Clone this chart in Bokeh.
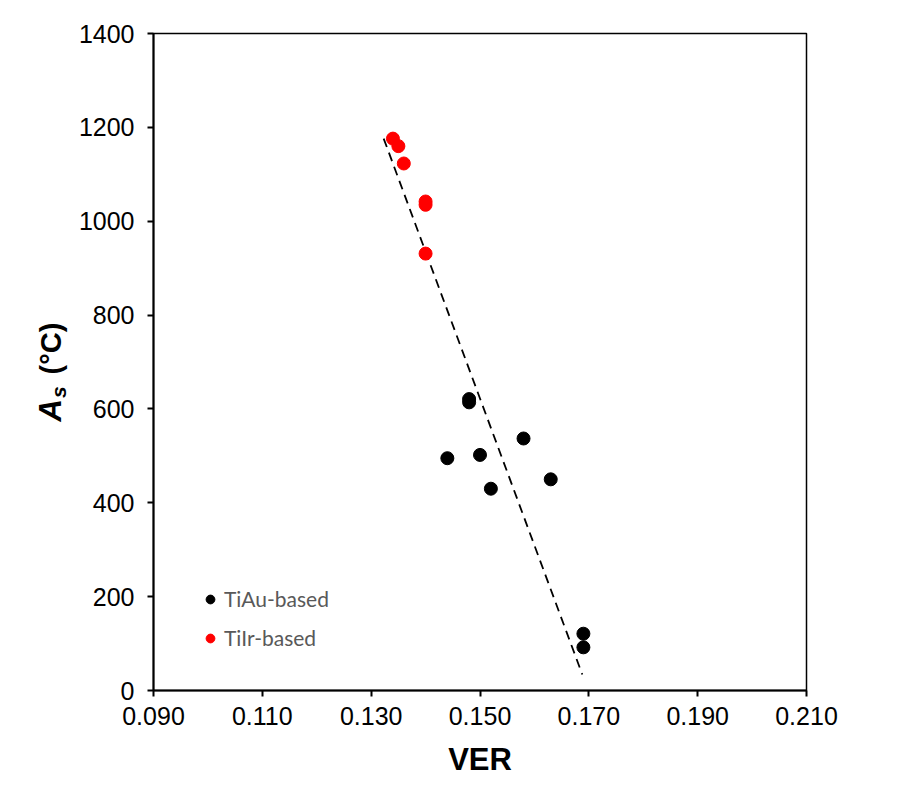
from bokeh.plotting import figure
from bokeh.layouts import row
from bokeh.models import Range1d, FixedTicker, NumeralTickFormatter, Legend, LegendItem, Div
from bokeh.embed import file_html
from bokeh.resources import INLINE

# ---- data ----
tiau_ver = [0.148, 0.148, 0.144, 0.150, 0.158, 0.152, 0.163, 0.169, 0.169]
tiau_as = [621, 614, 495, 502, 537, 430, 450, 121, 92]
tiir_ver = [0.134, 0.135, 0.136, 0.140, 0.140, 0.140]
tiir_as = [1176, 1160, 1123, 1042, 1035, 931]
trend_ver = [0.1323, 0.1688]
trend_as = [1176, 34]
x_ticks = [0.090, 0.110, 0.130, 0.150, 0.170, 0.190, 0.210]
y_ticks = [0, 200, 400, 600, 800, 1000, 1200, 1400]

DIV_W = 65
p = figure(width=816, height=780, output_backend="svg", toolbar_location=None,
           x_range=Range1d(0.090, 0.210), y_range=Range1d(0, 1400),
           min_border_left=77, min_border_right=85, min_border_top=33, min_border_bottom=90)
p.grid.visible = False
p.outline_line_color = "black"
p.outline_line_width = 1.5

for ax in (p.xaxis[0], p.yaxis[0]):
    ax.axis_line_width = 2
    ax.axis_line_color = "black"
    ax.major_tick_line_width = 2
    ax.major_tick_line_color = "black"
    ax.major_tick_out = 6
    ax.major_tick_in = 0
    ax.minor_tick_line_color = None
    ax.major_label_text_font = "Liberation Sans"
    ax.major_label_text_font_size = "25px"
    ax.major_label_text_color = "black"

p.xaxis.ticker = FixedTicker(ticks=x_ticks)
p.xaxis.formatter = NumeralTickFormatter(format="0.000")
p.xaxis.major_label_standoff = 10
p.yaxis.ticker = FixedTicker(ticks=y_ticks)
p.yaxis.major_label_standoff = 13

p.xaxis.axis_label = "VER"
p.xaxis.axis_label_text_font = "Liberation Sans"
p.xaxis.axis_label_text_font_size = "31px"
p.xaxis.axis_label_text_font_style = "bold"
p.xaxis.axis_label_text_color = "black"
p.xaxis.axis_label_standoff = 14

# trend line
p.line(trend_ver, trend_as, line_color="black", line_width=1.8, line_dash="9 6")

r1 = p.scatter(tiau_ver, tiau_as, size=13, color="black", marker="circle")
r2 = p.scatter(tiir_ver, tiir_as, size=13, color="#ff0000", marker="circle")

legend = Legend(items=[LegendItem(label="TiAu-based", renderers=[r1]),
                       LegendItem(label="TiIr-based", renderers=[r2])],
                location=(46, 40), orientation="vertical")
legend.background_fill_alpha = 0
legend.border_line_color = None
legend.label_text_font = "Lato"
legend.label_text_font_size = "21px"
legend.label_text_color = "#595959"
legend.glyph_width = 22
legend.glyph_height = 22
legend.label_height = 20
legend.spacing = 14
legend.padding = 0
legend.margin = 0
legend.label_standoff = 3
p.add_layout(legend)

# y axis title with italic A and subscript s, as real HTML text
ylab = Div(width=DIV_W, height=780, styles={"position": "relative"},
           text=('<div style="position:absolute; left:45px; top:367px; '
                 'transform:translate(-50%,-50%) rotate(-90deg); white-space:nowrap; '
                 "font-family:'Liberation Sans'; font-weight:bold; font-size:29px; "
                 'color:black; line-height:1;">'
                 '<i style="font-size:31px;">A</i>'
                 '<i style="font-size:21px; position:relative; top:5px; margin-left:1px;">s</i>'
                 '<span style="margin-left:12px;">(°C)</span></div>'))

layout = row(ylab, p, spacing=0)
open("out.html", "w").write(file_html(layout, INLINE))
